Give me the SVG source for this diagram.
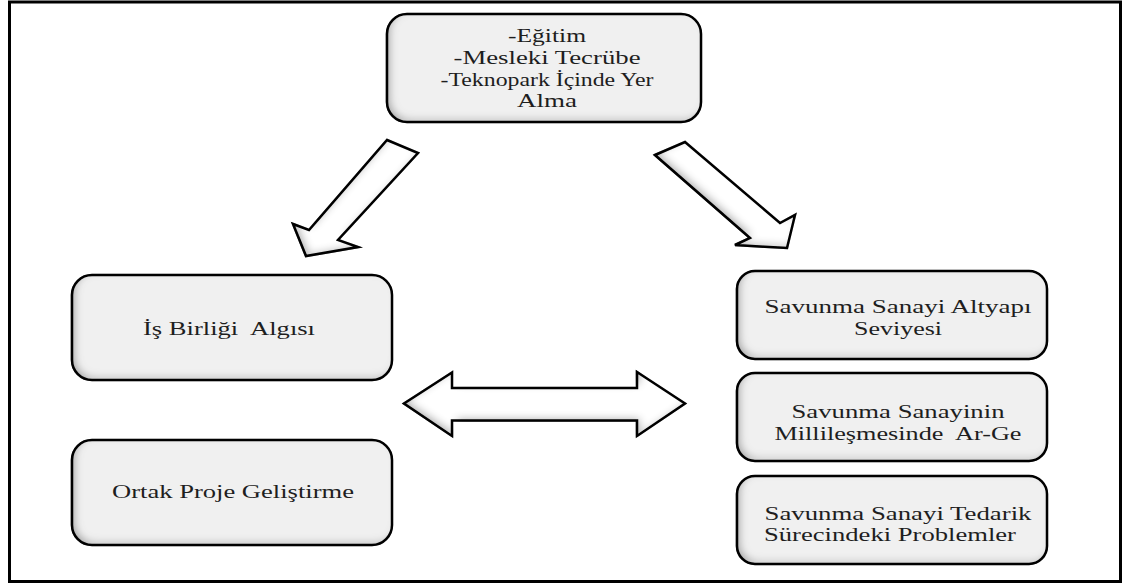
<svg xmlns="http://www.w3.org/2000/svg" width="1123" height="585" viewBox="0 0 1123 585">
<defs>
  <filter id="inset" x="-5%" y="-5%" width="110%" height="110%">
    <feFlood flood-color="#000" result="f"/>
    <feComposite in="f" in2="SourceAlpha" operator="out" result="outside"/>
    <feGaussianBlur in="outside" stdDeviation="4" result="blur"/>
    <feOffset in="blur" dx="4" dy="-3" result="off"/>
    <feComposite in="off" in2="SourceAlpha" operator="in" result="shadow"/>
    <feComponentTransfer in="shadow" result="shadow2"><feFuncA type="linear" slope="0.6"/></feComponentTransfer>
    <feMerge><feMergeNode in="SourceGraphic"/><feMergeNode in="shadow2"/></feMerge>
  </filter>
  <style>
    .box { fill: #f0f0f0; stroke: #000; stroke-width: 2.5; filter: url(#inset); }
    .arrow { fill: #fff; stroke: #000; stroke-width: 2.5; stroke-linejoin: miter; filter: url(#inset); }
    .t { font-family: "Liberation Serif", "Times New Roman", serif; font-size: 18px; fill: #1e1e1e; text-anchor: middle; white-space: pre; }
  </style>
</defs>
<rect x="0" y="0" width="1123" height="585" fill="#fff"/>
<rect x="9.5" y="2" width="1111" height="579.5" fill="none" stroke="#000" stroke-width="3"/>

<g id="connectors">
  <polygon class="arrow" points="387,140 418,153 338,240 358,247 306,256 293,224 309,230"/>
  <polygon class="arrow" points="655,155 685,142 780,223 795,215 787,248 735,245 750,238"/>
  <polygon class="arrow" points="404,403.5 452,372.5 452,388 637,388 637,372 685,403.5 637,436 637,420.5 452,420.5 452,436"/>
</g>

<g id="node-top">
  <rect class="box" x="387" y="14" width="314" height="108" rx="20" ry="20"/>
  <text class="t" x="547" y="42" textLength="78" lengthAdjust="spacingAndGlyphs">-Eğitim</text>
  <text class="t" x="547" y="64" textLength="187" lengthAdjust="spacingAndGlyphs">-Mesleki Tecrübe</text>
  <text class="t" x="547" y="86" textLength="213" lengthAdjust="spacingAndGlyphs">-Teknopark İçinde Yer</text>
  <text class="t" x="547" y="107" textLength="60" lengthAdjust="spacingAndGlyphs">Alma</text>
</g>

<g id="node-isbirligi">
  <rect class="box" x="72" y="275" width="320" height="105" rx="20" ry="20"/>
  <text class="t" x="229" y="335" textLength="172" lengthAdjust="spacingAndGlyphs" xml:space="preserve">İş Birliği  Algısı</text>
</g>

<g id="node-ortak">
  <rect class="box" x="72" y="440" width="320" height="105" rx="20" ry="20"/>
  <text class="t" x="233" y="498" textLength="242" lengthAdjust="spacingAndGlyphs">Ortak Proje Geliştirme</text>
</g>

<g id="node-altyapi">
  <rect class="box" x="737" y="271" width="310" height="88" rx="18" ry="18"/>
  <text class="t" x="898" y="313" textLength="267" lengthAdjust="spacingAndGlyphs">Savunma Sanayi Altyapı</text>
  <text class="t" x="898" y="335" textLength="88" lengthAdjust="spacingAndGlyphs">Seviyesi</text>
</g>

<g id="node-millilesme">
  <rect class="box" x="737" y="373" width="310" height="88" rx="18" ry="18"/>
  <text class="t" x="898" y="418" textLength="213" lengthAdjust="spacingAndGlyphs">Savunma Sanayinin</text>
  <text class="t" x="898" y="440" textLength="247" lengthAdjust="spacingAndGlyphs" xml:space="preserve">Millileşmesinde  Ar-Ge</text>
</g>

<g id="node-tedarik">
  <rect class="box" x="737" y="476" width="310" height="88" rx="18" ry="18"/>
  <text class="t" x="898" y="520" textLength="267" lengthAdjust="spacingAndGlyphs">Savunma Sanayi Tedarik</text>
  <text class="t" x="890" y="541" textLength="252" lengthAdjust="spacingAndGlyphs">Sürecindeki Problemler</text>
</g>
</svg>
